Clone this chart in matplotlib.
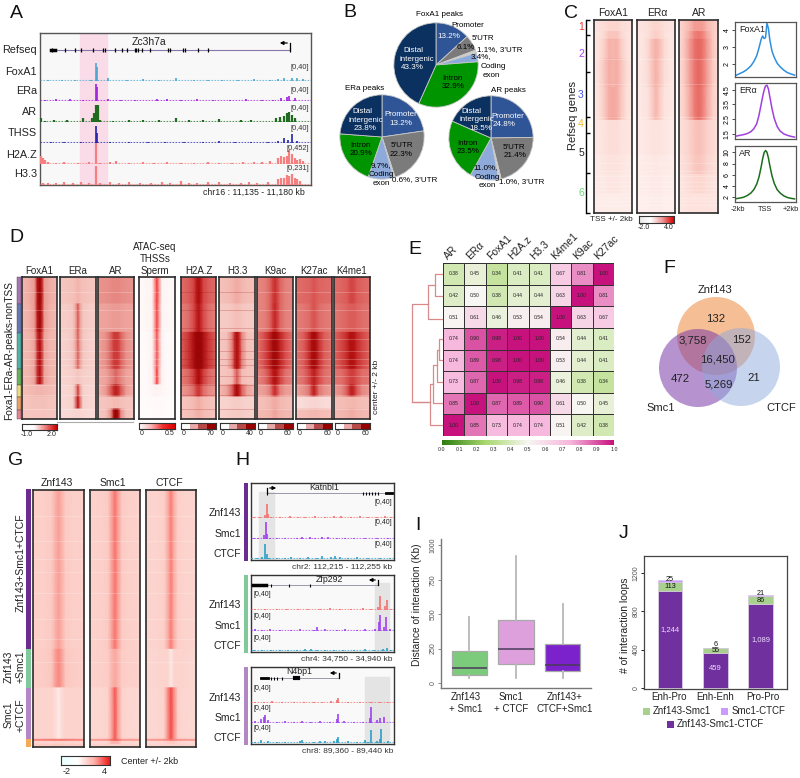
import numpy as np
import matplotlib
matplotlib.use('Agg')
import matplotlib.pyplot as plt
from matplotlib.colors import LinearSegmentedColormap
from matplotlib.patches import Rectangle, Circle

plt.rcParams['font.family'] = ['Liberation Sans', 'DejaVu Sans']

W, H = 800, 778
fig = plt.figure(figsize=(W / 100, H / 100), dpi=100)

# ---------- data ----------
PIE_FOXA1 = [13.2, 6.1, 1.1, 3.4, 32.9, 43.3]
PIE_ERA = [22.7, 22.3, 0.6, 9.7, 20.9, 23.8]   # promoter slice as drawn, its label says 13.2%
PIE_AR = [24.8, 21.4, 1.0, 11.0, 23.5, 18.5]
PIE_COLORS = ['#2f5597', '#7b7b7b', '#d0d0d0', '#8eaadb', '#009400', '#0b3161']

CORR_COLS = ['AR', 'ER\u03b1', 'FoxA1', 'H2A.z', 'H3.3', 'K4me1', 'K9ac', 'K27ac']
CORR = [[.38, .45, .34, .41, .41, .67, .81, 1.00],
        [.42, .50, .38, .44, .44, .63, 1.00, .81],
        [.51, .61, .46, .53, .54, 1.00, .63, .67],
        [.74, .90, .98, 1.00, 1.00, .54, .44, .41],
        [.74, .89, .98, 1.00, 1.00, .53, .44, .41],
        [.73, .87, 1.00, .98, .98, .46, .38, .34],
        [.85, 1.00, .87, .89, .90, .61, .50, .45],
        [1.00, .85, .73, .74, .74, .51, .42, .38]]

# boxplot panel I
BOX_NAMES = ['Znf143\n+ Smc1', 'Smc1\n+ CTCF', 'Znf143+\nCTCF+Smc1']
BOX_LOW = [36, 36, 36]
BOX_Q1 = [60, 135, 85]
BOX_MED = [109, 245, 133]
BOX_Q3 = [232, 455, 281]
BOX_HIGH = [479, 920, 576]
BOX_COLORS = ['#7ccb7c', '#dda0dd', '#7b22cc']

# stacked bars panel J, heights as drawn against the axis
LOOP_NAMES = ['Enh-Pro', 'Enh-Enh', 'Pro-Pro']
LOOP_ALL = [1009, 365, 880]
LOOP_ZS = [97, 49, 76]
LOOP_SC = [21, 7, 17]
LOOP_ALL_TXT = ['1,244', '459', '1,089']
LOOP_ZS_TXT = ['113', '55', '86']
LOOP_SC_TXT = ['25', '6', '21']

# line plots panel C, -2kb .. +2kb
TSS_X = [-2, -1.75, -1.5, -1.25, -1, -.8, -.6, -.45, -.3, -.2, -.1, 0, .1, .2, .3, .45, .6, .8, 1, 1.25, 1.5, 1.75, 2]
FOXA1_Y = [1.35, 1.45, 1.55, 1.7, 1.9, 2.15, 2.5, 2.95, 3.45, 3.65, 3.5, 3.55, 4.4, 4.1, 3.4, 2.75, 2.4, 2.05, 1.85, 1.65, 1.5, 1.42, 1.35]
ERA_Y = [1.35, 1.4, 1.45, 1.52, 1.65, 1.85, 2.2, 2.75, 3.5, 4.0, 4.45, 4.75, 4.8, 4.55, 4.0, 3.2, 2.55, 2.0, 1.7, 1.5, 1.4, 1.33, 1.28]
AR_Y = [1.8, 1.9, 2.05, 2.35, 2.8, 3.4, 4.4, 5.6, 7.4, 8.8, 9.9, 10.3, 10.0, 9.0, 7.6, 5.8, 4.5, 3.4, 2.8, 2.3, 2.0, 1.85, 1.75]

# heat panel C: rows from top, half profile edge .. centre
C_EDGES = [0, .06, .1, .2, .35, .5, .52, .7, .8, .9, 1]
C_FOXA1 = [[.20, .22, .25, .30, .30], [.18, .20, .28, .38, .38], [.18, .22, .34, .46, .44],
           [.18, .24, .38, .48, .46], [.18, .22, .36, .48, .50], [.18, .22, .36, .50, .52],
           [.17, .18, .20, .24, .24], [.15, .16, .18, .20, .20], [.14, .15, .16, .18, .18], [.13, .13, .14, .14, .14]]
C_ERA = [[.18, .20, .22, .28, .30], [.17, .18, .22, .30, .34], [.17, .18, .26, .40, .46],
         [.16, .18, .24, .38, .46], [.15, .17, .20, .34, .44], [.14, .16, .20, .34, .42],
         [.15, .16, .17, .20, .20], [.14, .14, .15, .16, .17], [.13, .13, .14, .15, .15], [.12, .12, .12, .13, .13]]
C_AR = [[.30, .36, .44, .55, .55], [.26, .36, .50, .66, .70], [.26, .38, .56, .72, .76],
        [.24, .36, .54, .70, .76], [.24, .34, .50, .68, .74], [.22, .32, .48, .66, .74],
        [.22, .26, .32, .38, .40], [.20, .24, .30, .36, .38], [.18, .20, .24, .28, .28], [.17, .18, .20, .21, .21]]
C_STREAKS = [.2, .33, .5, .74, .78, .81, .84, .86, .88, .92, .94, .96]

# heat panel D: one row per cluster
D_EDGES = [0, .19, .39, .65, .76, .845, .93, 1]
D_FOXA1 = [[.25, .28, .32, .75, .90], [.24, .27, .32, .72, .88], [.24, .26, .30, .62, .80],
           [.24, .26, .30, .60, .80], [.22, .24, .25, .26, .26], [.20, .21, .22, .22, .22], [.20, .20, .21, .21, .21]]
D_ERA = [[.20, .21, .22, .24, .26], [.17, .18, .20, .30, .46], [.16, .17, .20, .30, .44],
         [.15, .16, .17, .19, .20], [.14, .15, .16, .30, .55], [.14, .15, .16, .40, .72], [.13, .13, .14, .15, .15]]
D_AR = [[.33, .34, .35, .36, .36], [.30, .30, .31, .32, .32], [.30, .34, .44, .56, .58],
        [.28, .30, .36, .40, .44], [.26, .32, .46, .64, .70], [.20, .21, .22, .24, .24], [.20, .22, .34, .80, .95]]
D_ATAC = [[.03, .04, .05, .40, .62], [.03, .04, .05, .38, .60], [.02, .03, .05, .34, .56],
          [.02, .03, .05, .30, .62], [.03, .03, .04, .05, .06], [.02, .02, .03, .03, .03], [.02, .02, .02, .03, .03]]
D_H2AZ = [[.42, .46, .52, .72, .82], [.38, .42, .50, .66, .76], [.45, .60, .80, .92, .92],
          [.38, .44, .56, .72, .84], [.32, .36, .42, .52, .60], [.20, .22, .24, .26, .28], [.20, .22, .24, .26, .27]]
D_H33 = [[.22, .23, .25, .27, .28], [.18, .19, .20, .22, .23], [.20, .22, .36, .66, .80],
         [.20, .21, .24, .36, .46], [.24, .30, .44, .70, .85], [.15, .16, .17, .18, .18], [.16, .17, .18, .19, .19]]
D_K9 = [[.36, .38, .44, .54, .62], [.36, .38, .44, .56, .66], [.40, .50, .68, .84, .88],
        [.36, .42, .54, .70, .78], [.30, .32, .38, .50, .64], [.22, .23, .25, .27, .28], [.24, .25, .26, .28, .30]]
D_K27 = [[.42, .43, .44, .46, .48], [.38, .40, .42, .46, .48], [.40, .46, .62, .80, .86],
         [.38, .42, .50, .62, .70], [.30, .34, .40, .56, .70], [.12, .13, .14, .15, .15], [.22, .23, .24, .25, .25]]
D_K4 = [[.42, .44, .46, .50, .52], [.40, .42, .44, .46, .46], [.44, .52, .64, .76, .78],
        [.40, .42, .48, .54, .56], [.32, .36, .46, .62, .70], [.22, .23, .24, .25, .25], [.24, .25, .26, .27, .28]]
D_STREAKS = [.105, .23, .36, .44, .52, .58, .62, .70, .76, .83, .93]

# heat panel G
G_EDGES = [0, .62, .77, .97, .978, .99, 1]
G_ZNF = [[.27, .28, .30, .42, .50], [.28, .29, .32, .50, .60], [.24, .25, .25, .20, .12],
         [.60, .62, .64, .66, .66], [.24, .25, .25, .26, .26], [.30, .30, .30, .32, .32]]
G_SMC = [[.26, .27, .30, .50, .68], [.26, .27, .29, .40, .46], [.22, .23, .26, .50, .80],
         [.50, .52, .54, .70, .80], [.22, .23, .24, .40, .40], [.26, .26, .27, .28, .28]]
G_CTCF = [[.24, .25, .27, .44, .64], [.23, .24, .25, .24, .14], [.22, .23, .26, .58, .86],
          [.50, .52, .54, .60, .70], [.22, .22, .24, .30, .30], [.24, .24, .25, .26, .26]]
G_STREAKS = [.1, .2, .27, .32, .4, .5, .58, .67]

# column positions of the mirrored profile
HEAT_X = [0, .22, .36, .44, .5, .56, .64, .78, 1]
HEAT_X_WIDE = [0, .14, .28, .4, .5, .6, .72, .86, 1]

# tracks: percent of track width and signal height
A_REF_EXONS = [52, 65, 75, 81, 93, 103, 105, 115, 122, 127, 135, 136, 138, 142, 150, 168, 170, 183, 185, 198, 208, 290]
A_FOX_POS = [3, 8, 13, 19, 25, 32, 38, 44, 50, 57, 62, 67, 73, 79, 85, 88, 90, 93, 95, 97]
A_FOX_H = [3, 2, 3, 2, 6, 3, 4, 3, 6, 2, 3, 3, 2, 5, 3, 4, 6, 6, 7, 5]
A_ERA_POS = [2, 6, 11, 16, 25, 30, 35, 43, 47, 52, 58, 64, 70, 76, 82, 86, 89, 91, 92, 94]
A_ERA_H = [2, 5, 4, 3, 5, 3, 2, 4, 5, 3, 4, 3, 2, 4, 3, 3, 7, 9, 11, 7]
A_AR_POS = [0.5, 2, 5, 10, 16, 22, 27, 33, 38, 44, 50, 55, 60, 66, 74, 78, 87, 88.5, 90, 91, 92, 93, 94]
A_AR_H = [8, 3, 4, 4, 9, 5, 3, 4, 5, 4, 8, 5, 4, 6, 4, 5, 8, 10, 13, 18, 20, 14, 8]
A_THSS_POS = [4, 9, 15, 21, 26, 33, 40, 46, 53, 60, 66, 72, 78, 84, 88, 90, 91.5, 93, 95]
A_THSS_H = [2, 3, 2, 2, 3, 2, 3, 2, 3, 2, 4, 2, 3, 3, 5, 10, 7, 18, 5]
A_H2AZ_POS = [.5, 1, 2, 3, 6, 9, 14, 18, 22, 26, 28, 33, 38, 42, 47, 52, 57, 62, 66, 71, 75, 79, 82, 85, 88, 89, 90, 91, 92, 93, 94, 95, 96, 97]
A_H2AZ_H = [180, 130, 90, 50, 30, 35, 25, 40, 30, 40, 60, 25, 40, 30, 35, 25, 30, 40, 25, 30, 40, 35, 50, 60, 120, 170, 140, 180, 300, 210, 130, 90, 110, 70]
A_H33_POS = [1, 3, 6, 9, 12, 15, 18, 22, 26, 29, 33, 37, 41, 45, 48, 52, 55, 58, 62, 66, 70, 74, 77, 80, 84, 88, 89, 90, 91, 92, 93, 94, 95, 96]
A_H33_H = [30, 20, 30, 40, 30, 35, 25, 30, 35, 25, 40, 30, 20, 35, 30, 45, 30, 25, 35, 40, 30, 25, 35, 30, 40, 70, 90, 80, 120, 110, 130, 90, 70, 50]
PEAK_POS = 20.6
A_PEAKS = [38, 36, 36, 36, 452, 231]

H1_ZNF_POS = [2, 6, 10, 11, 12, 14, 20, 27, 33, 38, 45, 52, 58, 63, 70, 76, 82, 88, 94, 98]
H1_ZNF_H = [2, 2, 6, 30, 8, 3, 3, 4, 2, 3, 4, 3, 4, 5, 3, 4, 3, 3, 4, 2]
H1_SMC_POS = [2, 5, 9, 10.5, 11.5, 13, 18, 24, 32, 36, 41, 45, 50, 54, 60, 66, 72, 80, 88, 96]
H1_SMC_H = [2, 3, 8, 36, 10, 3, 2, 3, 3, 4, 4, 3, 5, 4, 3, 3, 3, 2, 3, 3]
H1_CTCF_POS = [1, 4, 8, 10, 11, 12.5, 18, 24, 28, 34, 40, 46, 50, 56, 59, 62, 68, 74, 82, 90, 97]
H1_CTCF_H = [3, 3, 5, 32, 10, 3, 3, 3, 5, 3, 5, 3, 6, 4, 6, 5, 3, 4, 3, 3, 3]
H2_ZNF_POS = [3, 10, 18, 25, 33, 40, 48, 55, 62, 70, 78, 84, 89, 90, 94, 95, 98]
H2_ZNF_H = [2, 3, 2, 3, 3, 2, 3, 4, 2, 3, 4, 3, 6, 30, 8, 22, 3]
H2_SMC_POS = [3, 8, 13, 20, 28, 34, 44, 46, 52, 60, 66, 74, 80, 87, 89.5, 90.5, 93, 94.5, 97]
H2_SMC_H = [4, 3, 5, 2, 3, 4, 3, 9, 4, 3, 4, 3, 4, 4, 20, 34, 8, 30, 5]
H2_CTCF_POS = [2, 8, 14, 20, 26, 32, 38, 42, 46, 52, 58, 64, 72, 80, 86, 92, 95, 98]
H2_CTCF_H = [2, 3, 2, 2, 3, 2, 4, 4, 3, 3, 2, 3, 3, 4, 3, 5, 6, 3]
H3_ZNF_POS = [3, 9, 15, 22, 30, 37, 44, 50, 56, 60, 61, 68, 76, 84, 90, 96]
H3_ZNF_H = [2, 3, 4, 3, 2, 3, 3, 2, 4, 7, 10, 3, 3, 2, 3, 2]
H3_SMC_POS = [3, 7, 9, 10, 12, 18, 24, 30, 36, 42, 48, 55, 60, 61, 65, 72, 78, 83, 84, 88, 90, 93]
H3_SMC_H = [4, 8, 12, 16, 6, 3, 4, 3, 5, 3, 4, 3, 8, 18, 4, 3, 3, 10, 34, 6, 10, 12]
H3_CTCF_POS = [3, 7, 12, 18, 24, 34, 36, 44, 48, 52, 58, 60, 61, 68, 74, 80, 82, 84, 88, 90, 91, 96]
H3_CTCF_H = [3, 6, 4, 3, 3, 5, 6, 3, 4, 5, 4, 8, 12, 4, 3, 6, 3, 28, 4, 8, 30, 4]

# ---------- helpers ----------
def ax_px(x0, y0, x1, y1, **kw):
    return fig.add_axes([x0 / W, 1 - y1 / H, (x1 - x0) / W, (y1 - y0) / H], **kw)

ov = fig.add_axes([0, 0, 1, 1], zorder=20)
ov.set_xlim(0, W)
ov.set_ylim(H, 0)
ov.axis('off')
ov.patch.set_alpha(0)

def txt(x, y, s, size=7.3, color='#222222', ha='center', rot=0, **kw):
    ov.text(x, y, s, fontsize=size, color=color, ha=ha, va='center', rotation=rot, **kw)

def bar_img(box, vals, cmap):
    cb = ax_px(*box)
    cb.imshow(vals, cmap=cmap, aspect='auto')
    cb.set_xticks([])
    cb.set_yticks([])
    for s in cb.spines.values():
        s.set_linewidth(.8)
        s.set_color('#333333')
    return cb

def heat(box, edges, rows, cmap, streaks=None, streak_col='white', xs=HEAT_X):
    ax = ax_px(*box)
    for i, row in enumerate(rows):
        full = np.array(list(row) + list(row[-2::-1]))
        ax.pcolormesh(xs, [edges[i], edges[i + 1]], np.vstack([full, full]), cmap=cmap,
                      vmin=0, vmax=1, shading='gouraud', rasterized=True)
    ax.set_xlim(0, 1)
    ax.set_ylim(1, 0)
    if streaks:
        ax.hlines(streaks, 0, 1, color=streak_col, lw=.5, alpha=.3)
    ax.set_xticks([])
    ax.set_yticks([])
    for s in ax.spines.values():
        s.set_linewidth(1.2)
        s.set_color('#2b2b2b')
    return ax

def track(x0, x1, base, pos, h, color, ymax, height=20, lw=1.2):
    ax = ax_px(x0, base - height, x1, base)
    ax.patch.set_alpha(0)
    ax.axis('off')
    ax.set_xlim(0, 100)
    ax.set_ylim(0, ymax)
    ax.vlines(pos, 0, h, color=color, lw=lw)
    ax.axhline(ymax * .03, color=color, lw=.8, alpha=.7, ls=(0, (1.5, 1.2)))

# ---------- A ----------
ax = ax_px(40, 33, 311, 185)
ax.set_facecolor('#f8f8f8')
ax.set_xticks([])
ax.set_yticks([])
for s in ax.spines.values():
    s.set_color('#555555')
    s.set_linewidth(1)
ax.add_patch(Rectangle((40 / 271, 0), 27 / 271, 1, transform=ax.transAxes, color='#f9dce8'))
track(40, 311, 81, A_FOX_POS + [PEAK_POS, PEAK_POS + .5], A_FOX_H + [A_PEAKS[0], 30], '#4aa6d0', 42)
track(40, 311, 101, A_ERA_POS + [PEAK_POS, PEAK_POS + .5], A_ERA_H + [A_PEAKS[1], 30], '#a020e0', 42)
track(40, 311, 122, A_AR_POS + [PEAK_POS - 1.5, PEAK_POS - .8, PEAK_POS, PEAK_POS + .7], A_AR_H + [8, 18, A_PEAKS[2], 36], '#1f6b1f', 42, lw=1.6)
track(40, 311, 143, A_THSS_POS + [PEAK_POS, PEAK_POS + .4], A_THSS_H + [A_PEAKS[3], 20], '#2222b0', 42)
track(40, 311, 164, A_H2AZ_POS + [PEAK_POS], A_H2AZ_H + [A_PEAKS[4]], '#f77f7f', 452, 21, lw=1.6)
track(40, 311, 185, A_H33_POS + [PEAK_POS], A_H33_H + [A_PEAKS[5]], '#f77f7f', 231, 19, lw=1.6)
ov.plot([52, 290], [50, 50], color='#8877aa', lw=.8)
ov.vlines(A_REF_EXONS, 48, 52, color='black', lw=.9)
ov.plot([51, 55], [50, 50], color='black', lw=2.5)
ov.annotate('', xy=(277, 43), xytext=(290, 43), arrowprops=dict(arrowstyle='-|>', color='black', lw=.9, mutation_scale=5))
ov.plot([290, 290], [43, 48], color='black', lw=.9)
txt(149, 42, 'Zc3h7a', 7.5)
for y, s in zip([50, 72, 91, 112, 133, 155, 174], ['Refseq', 'FoxA1', 'ERa', 'AR', 'THSS', 'H2A.Z', 'H3.3']):
    txt(37, y, s, 7.8, ha='right')
for y, s in zip([67, 90, 108, 128, 148, 168], ['[0,40]', '[0,40]', '[0,40]', '[0,40]', '[0,452]', '[0,231]']):
    txt(309, y, s, 5.3, ha='right', color='#333333')
txt(254, 192, 'chr16 : 11,135 - 11,180 kb', 6.3)

# ---------- B ----------
for (cx, cy), vals in zip([(436, 65), (382, 137), (491, 138)], [PIE_FOXA1, PIE_ERA, PIE_AR]):
    ax = ax_px(cx - 43, cy - 43, cx + 43, cy + 43)
    ax.pie(vals, colors=PIE_COLORS, startangle=90, counterclock=False, radius=1,
           wedgeprops=dict(edgecolor='#c8c8c8', linewidth=.6))
    ax.set_xlim(-1.02, 1.02)
    ax.set_ylim(-1.02, 1.02)

PS = 5.8
for x, y, s, c in [
    (439, 14, 'FoxA1 peaks', 'k'), (468, 25, 'Promoter', 'k'), (449, 36, '13.2%', 'w'), (483, 38, "5'UTR", 'k'),
    (466, 47, '6.1%', 'k'), (500, 50, "1.1%, 3'UTR", 'k'), (481, 57, '3.4%,', 'k'), (493, 66, 'Coding', 'k'),
    (491, 75, 'exon', 'k'), (413, 50, 'Distal', 'w'), (417, 59, 'intergenic', 'w'), (412, 67, '43.3%', 'w'),
    (452, 78, 'Intron', 'k'), (453, 86, '32.9%', 'k'),
    (365, 88, 'ERa peaks', 'k'), (362, 111, 'Distal', 'w'), (366, 120, 'intergenic', 'w'), (365, 128, '23.8%', 'w'),
    (401, 114, 'Promoter', 'w'), (401, 123, '13.2%', 'w'), (402, 145, "5'UTR", 'k'), (401, 154, '22.3%', 'k'),
    (360, 145, 'Intron', 'k'), (361, 153, '20.9%', 'k'), (381, 166, '9.7%,', 'k'), (381, 174, 'Coding', 'k'),
    (381, 183, 'exon', 'k'), (415, 180, "0.6%, 3'UTR", 'k'),
    (508, 90, 'AR peaks', 'k'), (471, 111, 'Distal', 'w'), (477, 119, 'intergenic', 'w'), (481, 128, '18.5%', 'w'),
    (508, 116, 'Promoter', 'w'), (504, 124, '24.8%', 'w'), (514, 147, "5'UTR", 'k'), (515, 155, '21.4%', 'k'),
    (467, 143, 'Intron', 'k'), (468, 151, '23.5%', 'k'), (486, 168, '11.0%,', 'k'), (487, 177, 'Coding', 'k'),
    (487, 185, 'exon', 'k'), (522, 182, "1.0%, 3'UTR", 'k')]:
    txt(x, y, s, PS, color=c)

# ---------- C ----------
red_c = LinearSegmentedColormap.from_list('redc', ['#ffffff', '#fbd0c8', '#ee8078', '#d02828'])
heat((594, 20, 632, 213), C_EDGES, C_FOXA1, red_c, C_STREAKS, xs=HEAT_X_WIDE)
heat((637, 20, 675, 213), C_EDGES, C_ERA, red_c, C_STREAKS, xs=HEAT_X_WIDE)
heat((679, 20, 718, 213), C_EDGES, C_AR, red_c, C_STREAKS, xs=HEAT_X_WIDE)
for x, s in [(613, 'FoxA1'), (657, 'ER\u03b1'), (699, 'AR')]:
    txt(x, 13, s, 7.5)
ov.plot([586, 586], [20, 213], color='black', lw=1)
ov.hlines([20, 35, 72, 117, 133, 173, 213], 586, 590, color='black', lw=1)
for y, s, c in [(27, '1', '#ee3333'), (54, '2', '#aa44ee'), (95, '3', '#4455ee'), (124, '4', '#f0c020'), (153, '5', '#222222'), (193, '6', '#66dd77')]:
    txt(581, y, s, 7.5, color=c)
txt(573, 115, 'Refseq genes', 8, rot=90)
bar_img((639, 216, 674, 223), np.linspace(0, 1, 64)[None, :],
        LinearSegmentedColormap.from_list('cbc', ['#e8e8e8', '#ffffff', '#ee9999', '#dd0000']))
txt(644, 227, '-2.0', 5)
txt(669, 227, '4.0', 5)
txt(611, 219, 'TSS +/- 2kb', 5.8)

for box, yv, col, ylim, ticks, tl, name in [
    ((735, 22, 796, 77), FOXA1_Y, '#2f8fe0', (1.24, 4.47), [2, 3, 4], ['2', '3', '4'], 'FoxA1'),
    ((735, 83, 796, 139), ERA_Y, '#a040e0', (1.15, 4.95), [1.5, 2.5, 3.5, 4.5], ['1.5', '2.5', '3.5', '4.5'], 'ER\u03b1'),
    ((735, 146, 796, 202), AR_Y, '#1c6e1c', (1.2, 11.1), [2, 4, 6, 8, 10], ['2', '4', '6', '8', '10'], 'AR')]:
    ax = ax_px(*box)
    ax.plot(TSS_X, yv, color=col, lw=1.1)
    ax.set_xlim(-2.1, 2.1)
    ax.set_ylim(*ylim)
    ax.set_yticks(ticks)
    ax.set_yticklabels(tl, rotation=90, va='center', fontsize=5)
    ax.tick_params(axis='y', length=2, width=.5, pad=1)
    ax.set_xticks([])
    for s in ax.spines.values():
        s.set_color('#555555')
        s.set_linewidth(.9)
    txt(box[0] + 4, box[1] + 7, name, 6.5, ha='left')
for x, s in [(738, '-2kb'), (765, 'TSS'), (791, '+2kb')]:
    txt(x, 209, s, 5.3)

# ---------- D ----------
red_d = LinearSegmentedColormap.from_list('redd', ['#ffffff', '#f3b8b0', '#d64a48', '#b81414', '#8c0000'])
atac = LinearSegmentedColormap.from_list('atac', ['#ffffff', '#fbb4b4', '#f03030', '#e00000'])
D_BOXES = [(22, 57, D_FOXA1, 'FoxA1'), (60, 96, D_ERA, 'ERa'), (98, 134, D_AR, 'AR'), (139, 175, D_ATAC, None),
           (181, 216, D_H2AZ, 'H2A.Z'), (219, 255, D_H33, 'H3.3'), (257, 293, D_K9, 'K9ac'),
           (296, 332, D_K27, 'K27ac'), (334, 370, D_K4, 'K4me1')]
for x0, x1, rows, name in D_BOXES:
    heat((x0, 277, x1, 419), D_EDGES, rows, atac if name is None else red_d, D_STREAKS,
         '#a01010' if name in ('H2A.Z', 'H3.3') else 'white')
    if name:
        txt((x0 + x1) / 2, 271, name, 7)
for y, s in [(247, 'ATAC-seq'), (259, 'THSSs'), (271, 'Sperm')]:
    txt(155, y, s, 7)
D_SIDE_EDGES = [277, 304, 333, 369, 385, 397, 410, 419]
D_SIDE_COLS = ['#a974b5', '#6478b8', '#4fb3aa', '#65b45c', '#ecdc7a', '#eea060', '#ea7f8f']
for i, c in enumerate(D_SIDE_COLS):
    ov.add_patch(Rectangle((17, D_SIDE_EDGES[i]), 4, D_SIDE_EDGES[i + 1] - D_SIDE_EDGES[i], fc=c, ec='#444444', lw=.3))
txt(9, 350, 'Foxa1-ERa-AR-peaks-nonTSS', 7.3, rot=90)
txt(377, 387, 'center +/- 2 kb', 6, rot=90)
ov.plot([57, 133], [422, 422], color='#aaaaaa', lw=.8)
bar_img((22, 424, 57, 430), np.linspace(0, 1, 64)[None, :],
        LinearSegmentedColormap.from_list('cbd', ['#ffffff', '#ffffff', '#f08080', '#cc0000']))
txt(27, 434, '-1.0', 5)
txt(52, 434, '2.0', 5)
bar_img((139, 423, 175, 429), np.linspace(0, 1, 64)[None, :], atac)
txt(142, 433, '0', 5)
txt(170, 433, '0.5', 5)
for x0, x1, top in [(181, 216, '70'), (220, 255, '40'), (258, 293, '60'), (297, 332, '60'), (335, 370, '60')]:
    bar_img((x0, 423, x1, 429), [[0, .33, .66, 1]],
            LinearSegmentedColormap.from_list('st', ['#ffffff', '#e8a8a8', '#b84848', '#990000']))
    txt(x0 + 3, 433, '0', 5)
    txt(x1 - 5, 433, top, 5)

# ---------- E ----------
corr_cmap = LinearSegmentedColormap.from_list('corr', ['#2e7d10', '#a9d86e', '#f7f7f2', '#f6b6dc', '#c7127e'])
ax = ax_px(443, 263, 614, 436)
ax.pcolormesh(np.array(CORR), cmap=corr_cmap, vmin=0, vmax=1, edgecolors='#333333', linewidth=.7)
ax.set_ylim(8, 0)
ax.set_xticks([])
ax.set_yticks([])
for s in ax.spines.values():
    s.set_visible(False)
for i in range(8):
    for j in range(8):
        ax.text(j + .5, i + .5, '%.2f' % CORR[i][j], ha='center', va='center', fontsize=3.6, color='#222222')
for j, name in enumerate(CORR_COLS):
    ov.text(443 + (j + .5) * 21.4 - 4, 261, name, fontsize=7.5, color='#222222', rotation=45,
            rotation_mode='anchor', ha='left', va='bottom')
cb = ax_px(442, 440, 614, 445)
cb.imshow(np.linspace(0, 1, 128)[None, :], cmap=corr_cmap, aspect='auto')
cb.set_xticks([])
cb.set_yticks([])
for s in cb.spines.values():
    s.set_visible(False)
for i, s in enumerate(['0.0', '0.1', '0.2', '0.3', '0.4', '0.5', '0.6', '0.7', '0.8', '0.9', '1.0']):
    txt(442 + i * 17.2, 449, s, 3.8)
DENDRO = '#d98a8a'
for xs, ys in [([442, 435, 435, 442], [274, 274, 296, 296]), ([435, 428, 428, 442], [285, 285, 319, 319]),
               ([428, 412, 412, 428], [304, 304, 402, 402]), ([442, 439, 439, 442], [339, 339, 360, 360]),
               ([439, 437, 437, 442], [350, 350, 382, 382]), ([437, 433, 433, 442], [365, 365, 403, 403]),
               ([433, 430, 430, 442], [384, 384, 425, 425]), ([430, 412], [402, 402])]:
    ov.plot(xs, ys, color=DENDRO, lw=.9)

# ---------- F ----------
for cx, cy, fc, a in [(716, 336, '#f4a970', .75), (698, 368, '#7a3aa8', .55), (741, 367, '#8faadc', .5)]:
    ov.add_patch(Circle((cx, cy), 39, fc=fc, ec='none', alpha=a))
txt(715, 290, 'Znf143', 8)
txt(661, 408, 'Smc1', 8)
txt(781, 408, 'CTCF', 8)
for x, y, s in [(716, 319, '132'), (693, 340, '3,758'), (742, 340, '152'), (718, 359, '16,450'),
                (680, 379, '472'), (719, 384, '5,269'), (754, 378, '21')]:
    txt(x, y, s, 8.2)

# ---------- G ----------
red_g = LinearSegmentedColormap.from_list('redg', ['#ffffff', '#fbc5bd', '#f77a72', '#ee3030'])
for x0, x1, rows, name in [(33, 84, G_ZNF, 'Znf143'), (90, 140, G_SMC, 'Smc1'), (146, 196, G_CTCF, 'CTCF')]:
    heat((x0, 490, x1, 747), G_EDGES, rows, red_g, G_STREAKS)
    txt((x0 + x1) / 2 - 2, 483, name, 7.5)
G_SIDE = [489, 649, 688, 739, 747]
G_COLS = ['#6a2c91', '#7fc99a', '#b386c4', '#f5a95b']
for i, c in enumerate(G_COLS):
    ov.add_patch(Rectangle((26, G_SIDE[i]), 5, G_SIDE[i + 1] - G_SIDE[i], fc=c, ec='none'))
txt(21, 563, 'Znf143+Smc1+CTCF', 7.5, rot=90)
txt(9, 667, 'Znf143', 7.5, rot=90)
txt(21, 667, '+Smc1', 7.5, rot=90)
txt(9, 715, 'Smc1', 7.5, rot=90)
txt(21, 715, '+CTCF', 7.5, rot=90)
bar_img((61, 756, 110, 765), np.linspace(0, 1, 64)[None, :],
        LinearSegmentedColormap.from_list('cbg', ['#e8ffff', '#ffffff', '#ffb0a8', '#ee1010']))
txt(67, 771, '-2', 6.5)
txt(104, 771, '4', 6.5)
txt(150, 761, 'Center +/- 2kb', 6.5)

# ---------- H ----------
H_RED, H_PUR, H_BLUE = '#f47070', '#a040f0', '#2aa0c8'
H_ROWS = [
    (483, 560, (259, 274, 492), '#6a2c91', (518, 539, 559),
     [(H1_ZNF_POS, H1_ZNF_H, H_RED), (H1_SMC_POS, H1_SMC_H, H_PUR), (H1_CTCF_POS, H1_CTCF_H, H_BLUE)]),
    (575, 652, (375, 389, 583), '#7fc99a', (610, 631, 651),
     [(H2_ZNF_POS, H2_ZNF_H, H_RED), (H2_SMC_POS, H2_SMC_H, H_PUR), (H2_CTCF_POS, H2_CTCF_H, H_BLUE)]),
    (667, 744, (365, 389, 677), '#b386c4', (703, 723, 743),
     [(H3_ZNF_POS, H3_ZNF_H, H_RED), (H3_SMC_POS, H3_SMC_H, H_PUR), (H3_CTCF_POS, H3_CTCF_H, H_BLUE)])]
for top, bot, sh, side, bases, rows in H_ROWS:
    ax = ax_px(251, top, 394, bot)
    ax.set_facecolor('#f9f9f9')
    ax.set_xticks([])
    ax.set_yticks([])
    for s in ax.spines.values():
        s.set_color('#333333')
        s.set_linewidth(1)
    ov.add_patch(Rectangle((244, top - .5), 4, bot - top + 1, fc=side, ec='none'))
    ax.add_patch(Rectangle(((sh[0] - 251) / 143, 0), (sh[1] - sh[0]) / 143, (bot - sh[2]) / (bot - top),
                           transform=ax.transAxes, color='#e4e4e4'))
    for base, (pos, hh, col) in zip(bases, rows):
        track(251, 394, base, pos, hh, col, 40, 19)
    for base, s in zip(bases, ['Znf143', 'Smc1', 'CTCF']):
        txt(241, base - 5, s, 7.5, ha='right')

# gene models and range labels
ov.plot([267, 392], [493, 493], color='#9999aa', lw=.7)
ov.vlines([267, 363, 366, 369, 372, 375, 378], 491.5, 494.5, color='black', lw=.8)
ov.plot([386, 392], [493, 493], color='black', lw=2)
ov.plot([267, 267], [488, 493], color='black', lw=.9)
ov.annotate('', xy=(279, 488), xytext=(267, 488), arrowprops=dict(arrowstyle='-|>', color='black', lw=.9, mutation_scale=5))
txt(324, 487, 'Katnbl1', 6.3)
ov.plot([253, 378], [585, 585], color='#9999aa', lw=.7)
ov.plot([253, 266], [585, 585], color='black', lw=2.5)
ov.vlines([271, 289, 310], 583.5, 586.5, color='black', lw=.8)
ov.plot([378, 378], [580, 585], color='black', lw=.9)
ov.annotate('', xy=(366, 580), xytext=(378, 580), arrowprops=dict(arrowstyle='-|>', color='black', lw=.9, mutation_scale=5))
txt(329, 579, 'Zfp292', 6.3)
ov.plot([261, 339], [678, 678], color='#9999aa', lw=.7)
ov.plot([261, 268], [678, 678], color='black', lw=2)
ov.vlines([271, 274, 277, 282], 676.5, 679.5, color='black', lw=.8)
ov.plot([295, 298], [678, 678], color='black', lw=3)
ov.plot([339, 339], [673, 678], color='black', lw=.9)
ov.annotate('', xy=(327, 673), xytext=(339, 673), arrowprops=dict(arrowstyle='-|>', color='black', lw=.9, mutation_scale=5))
txt(299, 672, 'N4bp1', 6.3)
for x, y in [(392, 502), (392, 523), (392, 545)]:
    txt(x, y, '[0,40]', 5, ha='right')
for x, y in [(253, 595), (253, 616), (253, 639), (254, 688), (254, 708), (254, 729)]:
    txt(x, y, '[0,40]', 5, ha='left')
txt(342, 567, 'chr2: 112,215 - 112,255 kb', 6, color='#333333')
txt(347, 659, 'chr4: 34,750 - 34,940 kb', 6, color='#333333')
txt(348, 751, 'chr8: 89,360 - 89,440 kb', 6, color='#333333')

# ---------- I ----------
ax = ax_px(441, 539, 591, 688)
stats = []
for i in range(3):
    stats.append(dict(whislo=BOX_LOW[i], q1=BOX_Q1[i], med=BOX_MED[i], q3=BOX_Q3[i], whishi=BOX_HIGH[i], fliers=[]))
bp = ax.bxp(stats, positions=[1, 2, 3], widths=.745, patch_artist=True, showfliers=False, showcaps=False,
            medianprops=dict(color='#4a3a5a', lw=1.1), whiskerprops=dict(color='#b8b8b8', lw=1.3),
            boxprops=dict(edgecolor='#a8a8a8', lw=.9))
for patch, c in zip(bp['boxes'], BOX_COLORS):
    patch.set_facecolor(c)
ax.set_xlim(.404, 3.596)
ax.set_ylim(-36, 1046)
ax.set_yticks([0, 250, 500, 750, 1000])
ax.set_yticklabels(['0', '250', '500', '750', '1000'], rotation=90, va='center', fontsize=5, color='#555555')
ax.tick_params(axis='y', length=2, width=.6, color='#777777', pad=1)
ax.set_xticks([])
for k in ['top', 'right']:
    ax.spines[k].set_visible(False)
for k in ['left', 'bottom']:
    ax.spines[k].set_color('#777777')
    ax.spines[k].set_linewidth(1)
for x, s in zip([466, 511, 565], BOX_NAMES):
    a, b = s.split('\n')
    txt(x, 697, a, 7)
    txt(x, 709, b, 7)
txt(417, 605, 'Distance of interaction (Kb)', 7.3, rot=90)

# ---------- J ----------
ax = ax_px(644, 556, 787, 689)
xpos = np.arange(3)
ax.bar(xpos, LOOP_ALL, width=.55, color='#70309e', edgecolor='#d6c6e0', lw=.7)
ax.bar(xpos, LOOP_ZS, width=.55, bottom=LOOP_ALL, color='#a9d18e', edgecolor='#d6c6e0', lw=.4)
tops = [a + b for a, b in zip(LOOP_ALL, LOOP_ZS)]
ax.bar(xpos, LOOP_SC, width=.55, bottom=tops, color='#cc99ff', edgecolor='#d6c6e0', lw=.4)
ALL_LABEL_Y = [605, 209, 504]
ZS_LABEL_Y = [1054, 393, 915]
SC_LABEL_Y = [1137, 459, 991]
for i in xpos:
    ax.text(i, ALL_LABEL_Y[i], LOOP_ALL_TXT[i], color='#eeddff', ha='center', va='center', fontsize=5.5)
    ax.text(i, ZS_LABEL_Y[i], LOOP_ZS_TXT[i], ha='center', va='center', fontsize=5.2, color='#111111')
    ax.text(i, SC_LABEL_Y[i], LOOP_SC_TXT[i], ha='center', va='center', fontsize=5.2, color='#111111')
ax.set_xlim(-.574, 2.58)
ax.set_ylim(-10, 1377)
ax.set_yticks([0, 400, 800, 1200])
ax.set_yticklabels(['0', '400', '800', '1200'], rotation=90, va='center', fontsize=5, color='#555555')
ax.tick_params(axis='y', length=2, width=.6, pad=1)
ax.set_xticks([])
for s in ax.spines.values():
    s.set_color('#444444')
    s.set_linewidth(.9)
for x, s in zip([669, 715, 763], LOOP_NAMES):
    txt(x, 697, s, 7)
txt(625, 625, '# of interaction loops', 7.5, rot=90)
for x0, y0, c, tx, s in [(643, 711, '#a9d18e', 653, 'Znf143-Smc1'), (721, 711, '#cc99ff', 732, 'Smc1-CTCF'),
                         (667, 724, '#70309e', 677, 'Znf143-Smc1-CTCF')]:
    ov.add_patch(Rectangle((x0, y0 - 3.5), 7, 7, fc=c, ec='none'))
    txt(tx, y0, s, 7, ha='left')

# ---------- panel letters ----------
for x, y, s in [(16, 13, 'A'), (350, 12, 'B'), (571, 13, 'C'), (16, 237, 'D'), (415, 249, 'E'), (669, 268, 'F'),
                (16, 460, 'G'), (242, 460, 'H'), (418, 525, 'I'), (624, 533, 'J')]:
    txt(x, y, s, 14, color='#111111')

fig.savefig('out.png', dpi=100)
